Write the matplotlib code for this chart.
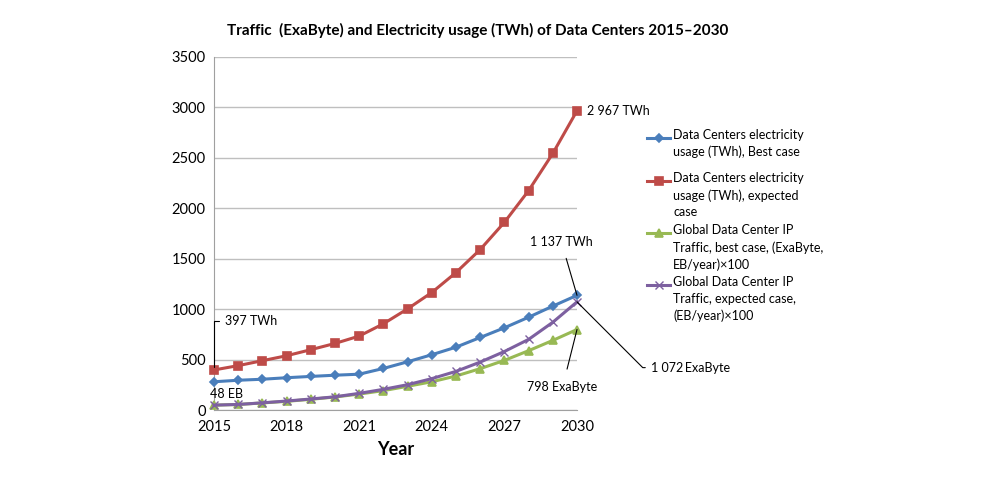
import matplotlib
matplotlib.use("Agg")
import matplotlib.pyplot as plt
from matplotlib.lines import Line2D

plt.rcParams["font.family"] = ["Lato", "DejaVu Sans"]

years = list(range(2015, 2031))

# TWh
elec_best = [280, 295, 305, 320, 333, 345, 355, 412, 478, 548, 623, 719, 815, 920, 1030, 1137]
elec_expected = [397, 440, 489, 538, 598, 660, 733, 855, 1003, 1165, 1363, 1591, 1861, 2175, 2544, 2967]
# (EB/year) x 100
traffic_best = [48, 55, 70, 86, 106, 129, 158, 192, 235, 280, 337, 410, 492, 588, 690, 798]
traffic_expected = [48, 55, 71, 89, 109, 131, 165, 205, 251, 311, 383, 475, 580, 700, 870, 1072]

series_labels = [
    "Data Centers electricity\nusage (TWh), Best case",
    "Data Centers electricity\nusage (TWh), expected\ncase",
    "Global Data Center IP\nTraffic, best case, (ExaByte,\nEB/year)\u00d7100",
    "Global Data Center IP\nTraffic, expected case,\n(EB/year)\u00d7100",
]
colors = ["#4a7ebb", "#be4b48", "#98b954", "#7d60a0"]
markers = ["D", "s", "^", "x"]
msizes = [4.2, 6, 6, 5.5]
mews = [1.2, 1.2, 1.2, 1.0]

fig = plt.figure(figsize=(10, 5), dpi=100)
ax = fig.add_axes([0.214, 0.18, 0.363, 0.706])

all_series = [elec_best, elec_expected, traffic_best, traffic_expected]
for vals, c, m, ms, mw in zip(all_series, colors, markers, msizes, mews):
    ax.plot(years, vals, color=c, lw=2.2, marker=m, ms=ms, mew=mw,
            clip_on=False, zorder=3)

ax.set_xlim(2015, 2030)
ax.set_ylim(0, 3500)
ax.set_xticks([2015, 2018, 2021, 2024, 2027, 2030])
ax.set_yticks(range(0, 3501, 500))
ax.tick_params(axis="y", length=0, labelsize=10.5, pad=6)
ax.tick_params(axis="x", length=0, labelsize=10.5, pad=7)
ax.grid(axis="y", color="#bfbfbf", lw=1)
ax.set_axisbelow(True)
for s in ["top", "right"]:
    ax.spines[s].set_visible(False)
for s in ["left", "bottom"]:
    ax.spines[s].set_color("#a0a0a0")
ax.set_xlabel("Year", fontsize=13, fontweight="bold", labelpad=5)

fig.text(0.478, 0.94, "Traffic  (ExaByte) and Electricity usage (TWh) of Data Centers 2015\u20132030",
         ha="center", va="center", fontsize=11, fontweight="bold")

# annotations
fs = 9
ax.annotate("397 TWh", xy=(2015, elec_expected[0]), xytext=(2015.45, 880),
            fontsize=fs, va="center",
            arrowprops=dict(arrowstyle="-", color="black", lw=0.8,
                            connectionstyle="angle,angleA=0,angleB=90,rad=0"))
ax.annotate("48 EB", xy=(2015, traffic_best[0]), xytext=(2014.85, 100),
            fontsize=fs, va="bottom")
ax.annotate("2 967 TWh", xy=(2030, elec_expected[-1]), xytext=(2030.4, elec_expected[-1]),
            fontsize=fs, va="center", annotation_clip=False)
ax.annotate("1 137 TWh", xy=(2030, elec_best[-1]), xytext=(2029.35, 1670),
            fontsize=fs, ha="center", va="center", annotation_clip=False,
            arrowprops=dict(arrowstyle="-", color="black", lw=0.8, shrinkA=6, shrinkB=0))
ax.annotate("798 ExaByte", xy=(2030, traffic_best[-1]), xytext=(2029.4, 225),
            fontsize=fs, ha="center", va="center", annotation_clip=False,
            arrowprops=dict(arrowstyle="-", color="black", lw=0.8, shrinkA=7, shrinkB=0))
ax.annotate("1 072\u2009ExaByte", xy=(2030, traffic_expected[-1]), xytext=(2033.05, 420),
            fontsize=fs, ha="left", va="center", annotation_clip=False,
            arrowprops=dict(arrowstyle="-", color="black", lw=0.8, shrinkA=2, shrinkB=0,
                            connectionstyle="angle,angleA=0,angleB=-45,rad=0"))

# legend drawn by hand so the handle sits on the first text line
entry_tops = [137.5, 181, 233, 285]
for lab, c, m, ms, mw, ytop in zip(series_labels, colors, markers, msizes, mews, entry_tops):
    yf = 1 - ytop / 500
    fig.add_artist(Line2D([0.647, 0.670], [yf, yf], color=c, lw=2.2, transform=fig.transFigure))
    fig.add_artist(Line2D([0.6585], [yf], color=c, marker=m, ms=ms, mew=mw, transform=fig.transFigure))
    fig.text(0.673, yf + 0.017, lab, fontsize=9, va="top", ha="left", linespacing=1.45)

fig.savefig("out.png", dpi=100)
